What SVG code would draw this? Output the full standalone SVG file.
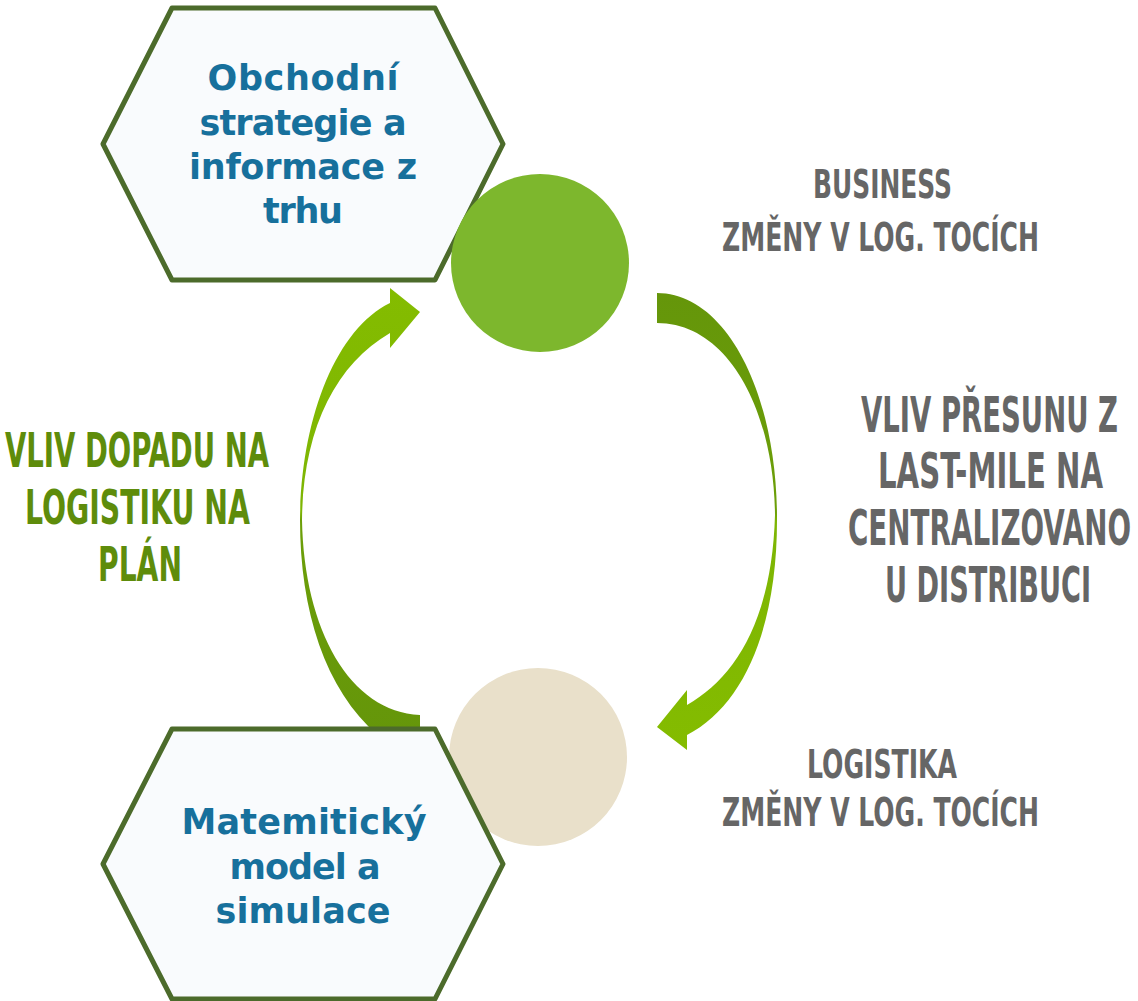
<svg xmlns="http://www.w3.org/2000/svg" width="1138" height="1001" viewBox="0 0 1138 1001">
<style>
.hex{fill:#f9fbfd;stroke:#4c6b2b;stroke-width:5;stroke-linejoin:round}
.ht{font-family:"DejaVu Sans","Open Sans",sans-serif;font-weight:700;font-size:35px;fill:#17709c}
.cd{font-family:"DejaVu Sans Condensed","Liberation Sans Narrow","Liberation Sans",sans-serif;font-weight:700}
.gray{fill:#666666}
.grn{fill:#5e8c0b}
</style>
<defs>
<linearGradient id="gL" gradientUnits="userSpaceOnUse" x1="0" y1="288" x2="0" y2="735">
<stop offset="0" stop-color="#84bc00"/>
<stop offset="0.5" stop-color="#7db503"/>
<stop offset="0.52" stop-color="#6c9f08"/>
<stop offset="1" stop-color="#65960a"/>
</linearGradient>
<linearGradient id="gR" gradientUnits="userSpaceOnUse" x1="0" y1="293" x2="0" y2="750">
<stop offset="0" stop-color="#65960a"/>
<stop offset="0.48" stop-color="#6c9f08"/>
<stop offset="0.5" stop-color="#7db503"/>
<stop offset="1" stop-color="#84bc00"/>
</linearGradient>
</defs>
<rect width="1138" height="1001" fill="#ffffff"/>
<g id="connectors">
<path id="arrow-left" fill="url(#gL)" d="M 420,312 L 390,288 L 390,303 C 335,330 301,420 300,520 C 300,610 325,690 378,735 L 420,735 L 420,715 C 350,712 304,630 302,520 C 303,430 335,365 390,333 L 390,348 Z"/>
<path id="arrow-right" fill="url(#gR)" d="M 657,293 C 725,293 776,390 777,515 C 778,625 745,705 687,735 L 687,750 L 657,727 L 687,690 L 687,705 C 735,678 772,620 775,515 C 774,410 728,323 657,323 Z"/>
</g>
<g id="node-strategy">
<polygon class="hex" points="172,8 435,8 503,144 435,280 172,280 103,144"/>
<text class="ht" x="303" y="90" text-anchor="middle" textLength="191" lengthAdjust="spacing">Obchodní</text>
<text class="ht" x="303" y="135" text-anchor="middle" textLength="207" lengthAdjust="spacing">strategie a</text>
<text class="ht" x="303" y="179" text-anchor="middle" textLength="228" lengthAdjust="spacing">informace z</text>
<text class="ht" x="303" y="223" text-anchor="middle" textLength="80" lengthAdjust="spacing">trhu</text>
</g>
<g id="node-business-circle">
<circle cx="540" cy="263" r="89" fill="#7db72d"/>
</g>
<g id="node-logistics-circle">
<circle cx="538" cy="757" r="89" fill="#e9e0ca"/>
</g>
<g id="node-model">
<polygon class="hex" points="172,729 435,729 503,864 435,999 172,999 103,864"/>
<text class="ht" x="304" y="834" text-anchor="middle" textLength="245" lengthAdjust="spacing">Matemitický</text>
<text class="ht" x="305" y="879" text-anchor="middle" textLength="151" lengthAdjust="spacing">model a</text>
<text class="ht" x="303" y="923" text-anchor="middle" textLength="175" lengthAdjust="spacing">simulace</text>
</g>
<g id="label-business" class="cd gray" font-size="27.6">
<text transform="translate(813,198) scale(1,1.42)" x="0" y="0" textLength="139" lengthAdjust="spacingAndGlyphs">BUSINESS</text>
<text transform="translate(722,251) scale(1,1.42)" x="0" y="0" textLength="317" lengthAdjust="spacingAndGlyphs">ZMĚNY V LOG. TOCÍCH</text>
</g>
<g id="label-shift" class="cd gray" font-size="31">
<text transform="translate(861,432) scale(1,1.6)" x="0" y="0" textLength="257" lengthAdjust="spacingAndGlyphs">VLIV PŘESUNU Z</text>
<text transform="translate(878,488) scale(1,1.6)" x="0" y="0" textLength="225" lengthAdjust="spacingAndGlyphs">LAST-MILE NA</text>
<text transform="translate(848,545) scale(1,1.6)" x="0" y="0" textLength="283" lengthAdjust="spacingAndGlyphs">CENTRALIZOVANO</text>
<text transform="translate(885,602) scale(1,1.6)" x="0" y="0" textLength="206" lengthAdjust="spacingAndGlyphs">U DISTRIBUCI</text>
</g>
<g id="label-logistics" class="cd gray" font-size="27.6">
<text transform="translate(807,778) scale(1,1.42)" x="0" y="0" textLength="150" lengthAdjust="spacingAndGlyphs">LOGISTIKA</text>
<text transform="translate(722,826) scale(1,1.42)" x="0" y="0" textLength="317" lengthAdjust="spacingAndGlyphs">ZMĚNY V LOG. TOCÍCH</text>
</g>
<g id="label-impact" class="cd grn" font-size="31">
<text transform="translate(5,467) scale(1,1.52)" x="0" y="0" textLength="264" lengthAdjust="spacingAndGlyphs">VLIV DOPADU NA</text>
<text transform="translate(25,524) scale(1,1.52)" x="0" y="0" textLength="225" lengthAdjust="spacingAndGlyphs">LOGISTIKU NA</text>
<text transform="translate(98,581) scale(1,1.52)" x="0" y="0" textLength="84" lengthAdjust="spacingAndGlyphs">PLÁN</text>
</g>
</svg>
